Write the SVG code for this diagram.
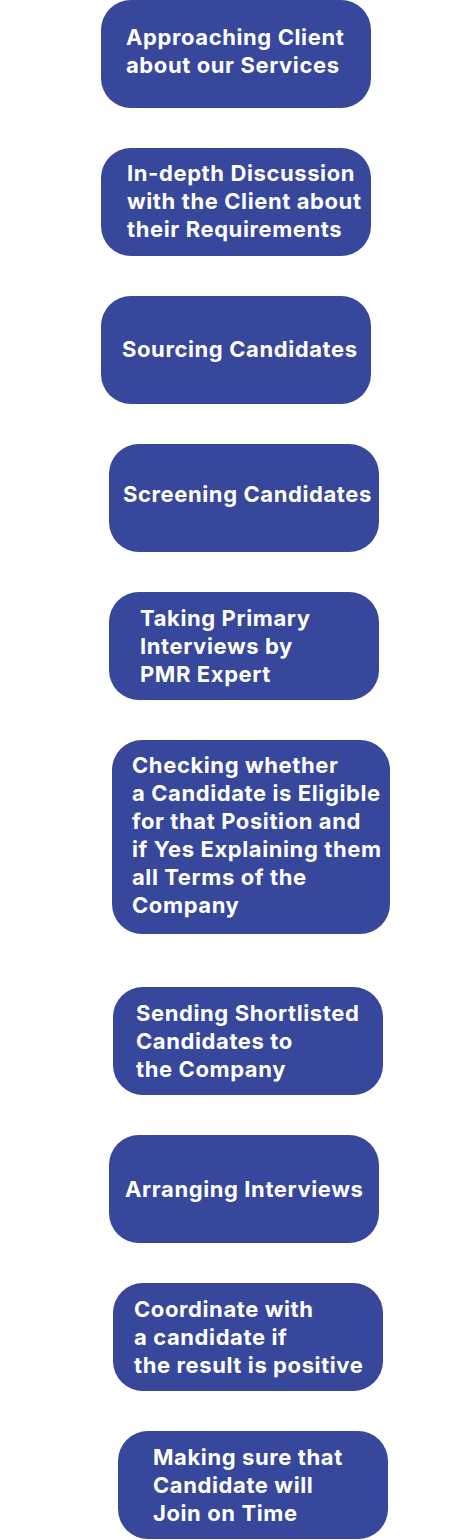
<svg xmlns="http://www.w3.org/2000/svg" width="473" height="1540" viewBox="0 0 473 1540">
<style>
.box{fill:#37479B;}
.t{font-family:Inter,"Noto Sans","Liberation Sans",sans-serif;font-weight:700;font-size:22px;letter-spacing:0.6px;fill:#FFFFFF;}
</style>
<rect width="473" height="1540" fill="#FFFFFF"/>
<g id="connectors"></g>
<g id="n1"><rect class="box" x="101" y="0" width="270" height="108" rx="30"/><text class="t" x="126" y="45">Approaching Client</text><text class="t" x="126" y="73">about our Services</text></g>
<g id="n2"><rect class="box" x="101" y="148" width="270" height="108" rx="30"/><text class="t" x="127" y="181">In-depth Discussion</text><text class="t" x="127" y="209">with the Client about</text><text class="t" x="127" y="237">their Requirements</text></g>
<g id="n3"><rect class="box" x="101" y="296" width="270" height="108" rx="30"/><text class="t" x="122" y="357">Sourcing Candidates</text></g>
<g id="n4"><rect class="box" x="109" y="444" width="270" height="108" rx="30"/><text class="t" x="123" y="502">Screening Candidates</text></g>
<g id="n5"><rect class="box" x="109" y="592" width="270" height="108" rx="30"/><text class="t" x="140" y="626">Taking Primary</text><text class="t" x="140" y="654">Interviews by</text><text class="t" x="140" y="682">PMR Expert</text></g>
<g id="n6"><rect class="box" x="112" y="740" width="278" height="194" rx="30"/><text class="t" x="132" y="773">Checking whether</text><text class="t" x="132" y="801">a Candidate is Eligible</text><text class="t" x="132" y="829">for that Position and</text><text class="t" x="132" y="857">if Yes Explaining them</text><text class="t" x="132" y="885">all Terms of the</text><text class="t" x="132" y="913">Company</text></g>
<g id="n7"><rect class="box" x="113" y="987" width="270" height="108" rx="30"/><text class="t" x="136" y="1021">Sending Shortlisted</text><text class="t" x="136" y="1049">Candidates to</text><text class="t" x="136" y="1077">the Company</text></g>
<g id="n8"><rect class="box" x="109" y="1135" width="270" height="108" rx="30"/><text class="t" x="125" y="1197">Arranging Interviews</text></g>
<g id="n9"><rect class="box" x="113" y="1283" width="270" height="108" rx="30"/><text class="t" x="134" y="1317">Coordinate with</text><text class="t" x="134" y="1345">a candidate if</text><text class="t" x="134" y="1373">the result is positive</text></g>
<g id="n10"><rect class="box" x="118" y="1431" width="270" height="108" rx="30"/><text class="t" x="153" y="1465">Making sure that</text><text class="t" x="153" y="1493">Candidate will</text><text class="t" x="153" y="1521">Join on Time</text></g>
</svg>
